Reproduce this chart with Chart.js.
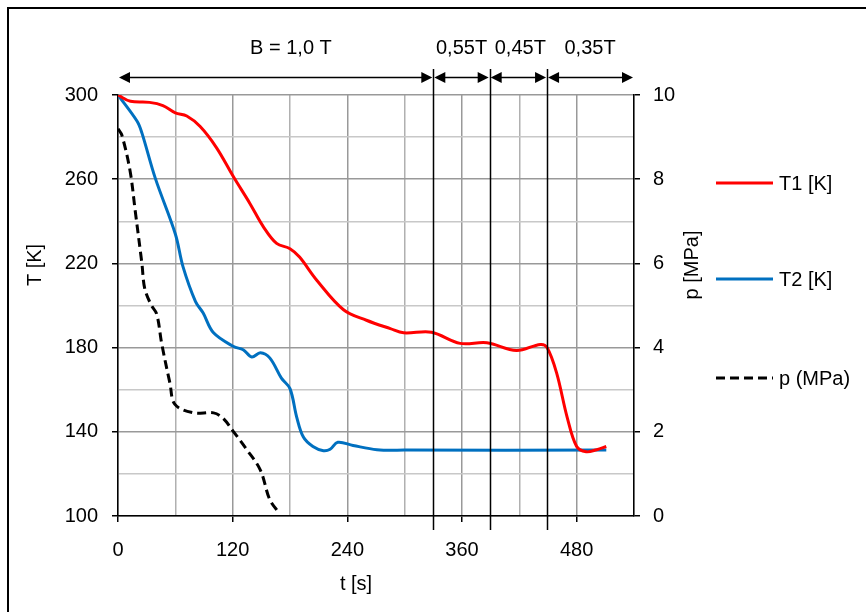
<!DOCTYPE html>
<html><head><meta charset="utf-8">
<script src="https://cdn.jsdelivr.net/npm/chart.js@4.4.0/dist/chart.umd.min.js"></script>
<style>html,body{margin:0;padding:0;background:#fff;}#wrap{width:866px;height:612px;position:relative;}</style>
</head><body><div id="wrap"><canvas id="c"></canvas></div>
<script>
// ---- data ----
const seriesNames = ['T1 [K]', 'T2 [K]', 'p (MPa)'];
const t1Time   = [0, 13, 33, 47, 60, 72, 86, 103, 121, 138, 152, 166, 180, 190, 208, 236, 260, 285, 299, 328, 358, 386, 417, 442, 449, 459, 470, 480, 490, 501, 511];
const t1Values = [300, 297, 296.5, 295, 291.5, 290, 285, 275, 261, 248.5, 237.5, 229.5, 227, 223, 212, 198, 193, 189, 187, 187.3, 182, 182.3, 178.6, 181.5, 180, 168, 147, 133, 130.5, 131.5, 133];
const t2Time   = [0, 20, 25, 39, 60, 68, 81, 89, 100, 121, 131, 140, 149, 159, 171, 180, 187, 194, 204, 215, 222, 230, 246, 271, 300, 511];
const t2Values = [300, 287.5, 282, 260.5, 234, 218.5, 202, 196.5, 187, 180.5, 179, 175.5, 177.5, 175, 165.5, 160.5, 147, 137.5, 133, 131, 131.7, 135, 133.5, 131.5, 131.3, 131.3];
const pTime    = [0, 4, 12.6, 18, 25, 28, 35, 40.5, 45.7, 54.4, 59.6, 79, 100, 110, 121, 135, 149, 159, 169.5];
const pValues  = [9.2, 9.05, 8.2, 7.25, 6.0, 5.4, 5.0, 4.8, 4.1, 3.15, 2.65, 2.45, 2.45, 2.32, 2.0, 1.57, 1.09, 0.38, 0.05];
const fieldBoundaries = [330, 389, 449];           // s, field changes
const fieldLabels = ['B = 1,0 T', '0,55T', '0,45T', '0,35T'];
const xTickLabels = [0, 120, 240, 360, 480];
const tTickLabels = [100, 140, 180, 220, 260, 300];
const pTickLabels = [0, 2, 4, 6, 8, 10];
const axisTitles = {x: 't [s]', y: 'T [K]', y2: 'p [MPa]'};

const FONT = '"Liberation Sans", Arial, sans-serif';
const toXY = (ts, vs) => ts.map((t, i) => ({x: t, y: vs[i]}));
const colors = ['#ff0000', '#0070c0', '#000000'];

const deco = {
  id: 'deco',
  afterDraw(chart) {
    const {ctx, scales: {x}} = chart;
    const ca = chart.chartArea;
    ctx.save();
    // outer frame
    ctx.strokeStyle = '#000'; ctx.lineWidth = 2;
    ctx.beginPath(); ctx.moveTo(8, 612); ctx.lineTo(8, 8); ctx.lineTo(866, 8); ctx.stroke();
    // field boundary lines
    ctx.lineWidth = 1.5;
    fieldBoundaries.forEach(v => {
      const px = Math.round(x.getPixelForValue(v)) + 0.5;
      ctx.beginPath(); ctx.moveTo(px, 69); ctx.lineTo(px, 530); ctx.stroke();
    });
    // arrows
    const edges = [x.min, ...fieldBoundaries, x.max];
    const ay = 77.5, L = 11, H = 5.5;
    ctx.fillStyle = '#000';
    for (let i = 0; i < edges.length - 1; i++) {
      const a = x.getPixelForValue(edges[i]), b = x.getPixelForValue(edges[i + 1]);
      ctx.beginPath(); ctx.moveTo(a + L, ay); ctx.lineTo(b - L, ay); ctx.stroke();
      ctx.beginPath(); ctx.moveTo(a + 1, ay); ctx.lineTo(a + 1 + L, ay - H); ctx.lineTo(a + 1 + L, ay + H); ctx.closePath(); ctx.fill();
      ctx.beginPath(); ctx.moveTo(b - 1, ay); ctx.lineTo(b - 1 - L, ay - H); ctx.lineTo(b - 1 - L, ay + H); ctx.closePath(); ctx.fill();
    }
    // field labels
    ctx.font = '20px ' + FONT; ctx.textAlign = 'center'; ctx.textBaseline = 'middle';
    const labelT = [181, 359.5, 421, 494];
    fieldLabels.forEach((s, i) => ctx.fillText(s, x.getPixelForValue(labelT[i]), 48));
    // axis titles
    ctx.fillText(axisTitles.x, 356, 584);
    ctx.save(); ctx.translate(35, 265); ctx.rotate(-Math.PI / 2); ctx.fillText(axisTitles.y, 0, 0); ctx.restore();
    ctx.save(); ctx.translate(692, 265); ctx.rotate(-Math.PI / 2); ctx.fillText(axisTitles.y2, 0, 0); ctx.restore();
    // legend
    const ly = [183, 279, 378];
    ctx.textAlign = 'left';
    chart.data.datasets.forEach((ds, i) => {
      ctx.strokeStyle = ds.borderColor; ctx.lineWidth = 3;
      ctx.setLineDash(ds.borderDash || []);
      ctx.beginPath(); ctx.moveTo(716, ly[i]); ctx.lineTo(773, ly[i]); ctx.stroke();
      ctx.setLineDash([]);
      ctx.fillStyle = '#000';
      ctx.fillText(ds.label, 779, ly[i] + 1);
    });
    ctx.restore();
  }
};

new Chart(document.getElementById('c'), {
  type: 'line',
  data: {
    datasets: [
      {label: seriesNames[0], data: toXY(t1Time, t1Values), borderColor: colors[0], borderWidth: 3, pointRadius: 0, tension: 0.35, yAxisID: 'y'},
      {label: seriesNames[1], data: toXY(t2Time, t2Values), borderColor: colors[1], borderWidth: 3, pointRadius: 0, tension: 0.35, yAxisID: 'y'},
      {label: seriesNames[2], data: toXY(pTime, pValues), borderColor: colors[2], borderWidth: 3, borderDash: [9, 5], pointRadius: 0, tension: 0.35, yAxisID: 'y2'}
    ]
  },
  options: {
    responsive: true, maintainAspectRatio: false, animation: false,
    layout: {padding: {top: 95, left: 0, right: 0, bottom: 0}},
    plugins: {legend: {display: false}, tooltip: {enabled: false}},
    scales: {
      x: {
        type: 'linear', min: 0, max: 540,
        afterFit: s => { s.height = 96; },
        ticks: {stepSize: 60, autoSkip: false, maxRotation: 0, padding: 16, color: '#000', font: {family: FONT, size: 20},
          callback: v => xTickLabels.includes(v) ? String(v) : ''},
        grid: {color: c => (c.tick && c.tick.value % 120 === 0) ? '#999999' : '#b0b0b0', lineWidth: 1.5, tickLength: 6,
          tickColor: c => (c.tick && xTickLabels.includes(c.tick.value)) ? '#000' : 'rgba(0,0,0,0)', tickWidth: 1.5},
        border: {color: '#000', width: 1.5}
      },
      y: {
        position: 'left', min: 100, max: 300,
        afterFit: s => { s.width = 118; },
        ticks: {stepSize: 20, autoSkip: false, padding: 14, color: '#000', font: {family: FONT, size: 20},
          callback: v => tTickLabels.includes(v) ? String(v) : ''},
        grid: {color: c => (c.tick && tTickLabels.includes(c.tick.value)) ? '#999999' : '#c8c8c8', lineWidth: 1.5, tickLength: 6,
          tickColor: c => (c.tick && tTickLabels.includes(c.tick.value)) ? '#000' : 'rgba(0,0,0,0)', tickWidth: 1.5},
        border: {color: '#000', width: 1.5}
      },
      y2: {
        position: 'right', min: 0, max: 10,
        afterFit: s => { s.width = 232; },
        ticks: {stepSize: 1, autoSkip: false, padding: 13, color: '#000', font: {family: FONT, size: 20},
          callback: v => pTickLabels.includes(v) ? String(v) : ''},
        grid: {drawOnChartArea: false, tickLength: 6, lineWidth: 1.5,
          tickColor: c => (c.tick && pTickLabels.includes(c.tick.value)) ? '#000' : 'rgba(0,0,0,0)', tickWidth: 1.5},
        border: {color: '#000', width: 1.5}
      }
    }
  },
  plugins: [deco]
});
</script></body></html>
